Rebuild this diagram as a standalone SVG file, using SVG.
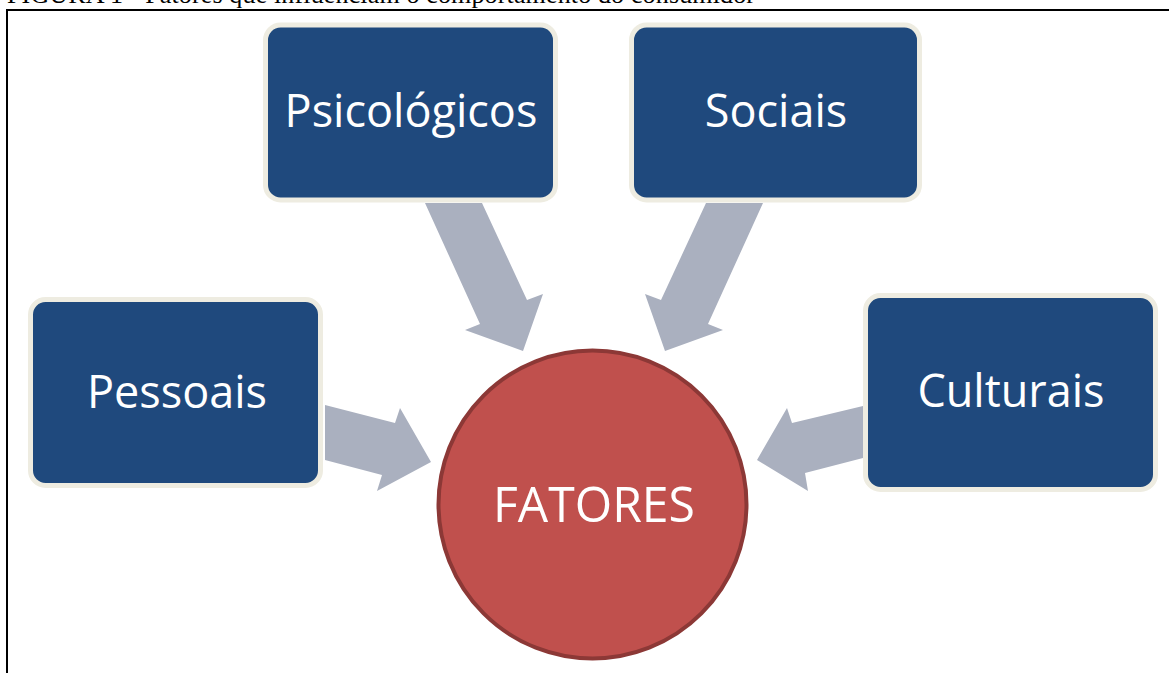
<svg xmlns="http://www.w3.org/2000/svg" width="1169" height="673" viewBox="0 0 1169 673">
<style>
.box{fill:#1F497D;stroke:#EEECE1;stroke-width:5}
.lbl{fill:#FFFFFF;font-family:"Open Sans","Noto Sans",sans-serif;font-size:45px;text-anchor:middle}
.arr{fill:#AAB0BF}
.cap{font-family:"Liberation Serif","Times New Roman",serif;font-size:26px;fill:#000}
.frame{fill:none;stroke:#000;stroke-width:2}
</style>
<text class="cap" x="7" y="3" textLength="748" lengthAdjust="spacing">FIGURA 1 - Fatores que influenciam o comportamento do consumidor</text>
<path class="frame" d="M7,673 V10 H1169"/>
<g id="connectors">
<polygon class="arr" points="325,405 395,423 400,408 431,462 377,491 382,475 325,460"/>
<polygon class="arr" points="863,406 792,423 787,408 757,460 808,491 805,473 863,458"/>
<polygon class="arr" points="425,203 482,203 527,300 543,294 523,351 465,330 480,324"/>
<polygon class="arr" points="763,203 706,203 661,300 645,294 665,351 723,330 708,324"/>
</g>
<g id="psicologicos">
<rect class="box" x="265.5" y="25" width="290" height="175" rx="15"/>
<text class="lbl" x="411" y="127">Psicológicos</text>
</g>
<g id="sociais">
<rect class="box" x="631.5" y="25" width="288" height="175" rx="15"/>
<text class="lbl" x="776" y="127">Sociais</text>
</g>
<g id="pessoais">
<rect class="box" x="30.5" y="299.5" width="290" height="186" rx="15"/>
<text class="lbl" x="177" y="408">Pessoais</text>
</g>
<g id="culturais">
<rect class="box" x="865.5" y="295.5" width="290" height="194" rx="15"/>
<text class="lbl" x="1011" y="407">Culturais</text>
</g>
<g id="fatores">
<circle cx="592.5" cy="504.5" r="154" fill="#C0504D" stroke="#8C3836" stroke-width="4"/>
<text class="lbl" x="594" y="522" style="font-size:50px" textLength="202" lengthAdjust="spacingAndGlyphs">FATORES</text>
</g>
</svg>
